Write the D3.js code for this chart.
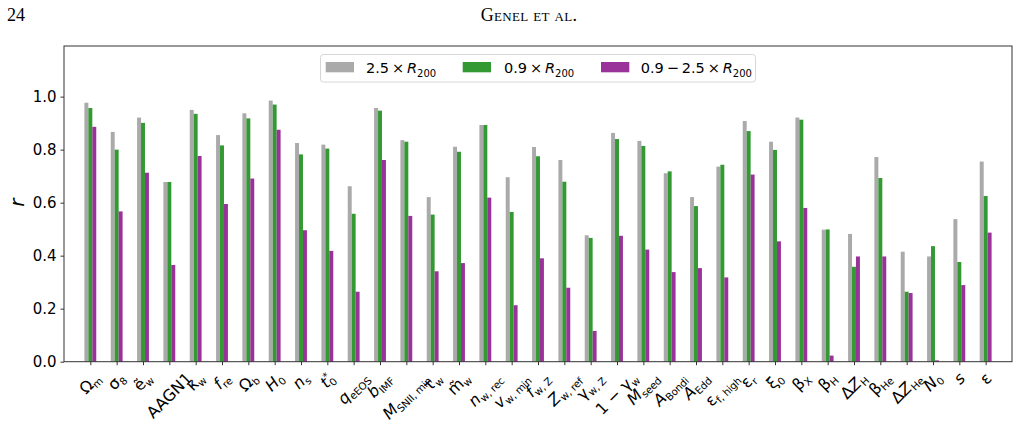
<!DOCTYPE html>
<html>
<head>
<meta charset="utf-8">
<script src="https://cdn.jsdelivr.net/npm/d3@7"></script>
<style>
body { margin: 0; background: #fff; }
svg { display: block; }
</style>
</head>
<body>
<svg id="chart" width="1019" height="426"></svg>
<script>
// ---- data ----
const categories = ["Ω_m","σ_8","ẽ_w","AAGN1","κ_w","f_{re}","Ω_b","H_0","n_s","t_0^*","q_{eEOS}","b_{IMF}",
  "M_{SNII, min}","τ_w","m̃_w","n_{w, rec}","v_{w, min}","f_{w, Z}","Z_{w, ref}","γ_{w, Z}","1 − γ_w","M_{seed}",
  "A_{Bondi}","A_{Edd}","ε_{f, high}","ε_r","ξ_0","β_X","β_H","ΔZ_H","β_{He}","ΔZ_{He}","N_0","s","ε"];
const r25 = [0.977,0.867,0.921,0.678,0.950,0.855,0.937,0.985,0.825,0.819,0.662,0.957,
  0.836,0.621,0.811,0.893,0.696,0.810,0.761,0.477,0.863,0.833,
  0.711,0.621,0.736,0.908,0.830,0.921,0.498,0.482,0.772,0.415,0.397,0.538,0.755];
const r09 = [0.957,0.800,0.901,0.678,0.935,0.816,0.918,0.970,0.782,0.804,0.558,0.947,
  0.830,0.555,0.792,0.893,0.565,0.775,0.679,0.467,0.840,0.814,
  0.718,0.587,0.743,0.870,0.799,0.913,0.499,0.358,0.693,0.264,0.436,0.376,0.625];
const r0925 = [0.886,0.567,0.713,0.365,0.776,0.595,0.691,0.875,0.496,0.418,0.264,0.761,
  0.550,0.341,0.372,0.619,0.213,0.390,0.279,0.116,0.475,0.423,
  0.338,0.353,0.318,0.706,0.454,0.580,0.023,0.397,0.397,0.259,0.005,0.289,0.487];
const yTicks = [0.0,0.2,0.4,0.6,0.8,1.0];
const seriesNames = [["2.5\u2009×\u2009", "R", "200"], ["0.9\u2009×\u2009", "R", "200"], ["0.9\u2009−\u20092.5\u2009×\u2009", "R", "200"]];
const seriesColors = ["#aaaaaa", "#339933", "#993399"];
const seriesData = [r25, r09, r0925];
const offsets = [-0.15, 0, 0.15];
const barW = 0.15;

// ---- layout ----
const svg = d3.select("#chart");
const L = 64, R = 1012, T = 46, B = 361.7;
const x = d3.scaleLinear().domain([-1, categories.length]).range([L, R]);
const y = d3.scaleLinear().domain([0, 1.191]).range([B, T]);
const sans = "DejaVu Sans, sans-serif";

// header
svg.append("text").attr("x", 7).attr("y", 21).attr("font-family", "Liberation Serif, serif")
  .attr("font-size", 18).text("24");
svg.append("text").attr("x", 529).attr("y", 21).attr("text-anchor", "middle")
  .attr("font-family", "Liberation Serif, serif").attr("font-size", 18)
  .style("font-variant", "small-caps").attr("letter-spacing", 0.3).text("Genel et al.");

// bars
seriesData.forEach((arr, si) => {
  svg.append("g").selectAll("rect").data(arr).join("rect")
    .attr("x", (d, i) => x(i + offsets[si] - barW / 2))
    .attr("width", x(barW) - x(0))
    .attr("y", d => y(d))
    .attr("height", d => y(0) - y(d))
    .attr("fill", seriesColors[si]);
});

// frame
svg.append("rect").attr("x", L).attr("y", T).attr("width", R - L).attr("height", B - T)
  .attr("fill", "none").attr("stroke", "#333").attr("stroke-width", 1);

// y axis
const ya = svg.append("g").attr("transform", `translate(${L},0)`)
  .call(d3.axisLeft(y).tickValues(yTicks).tickFormat(d3.format(".1f")).tickSize(3.5).tickPadding(4));
ya.select(".domain").remove();
ya.selectAll("text").attr("font-family", sans).attr("font-size", 15).attr("fill", "#000");
ya.selectAll("line").attr("stroke", "#333");

// x axis ticks
const xa = svg.append("g").attr("transform", `translate(0,${B})`)
  .call(d3.axisBottom(x).tickValues(d3.range(categories.length)).tickFormat("").tickSize(3.5));
xa.select(".domain").remove();
xa.selectAll("line").attr("stroke", "#333");

// math-ish label parser
function parseLabel(s) {
  const segs = [];
  let i = 0;
  while (i < s.length) {
    const ch = s[i];
    if (ch === "_" || ch === "^") {
      const kind = ch === "_" ? "sub" : "sup";
      i++;
      let t;
      if (s[i] === "{") { const j = s.indexOf("}", i); t = s.slice(i + 1, j); i = j + 1; }
      else { t = s[i]; i++; }
      segs.push({ t, kind });
    } else {
      let j = i;
      while (j < s.length && s[j] !== "_" && s[j] !== "^") j++;
      segs.push({ t: s.slice(i, j), kind: "main" });
      i = j;
    }
  }
  return segs;
}
const latinItalic = /^[A-Za-z]$/;
const subScale = 0.64;

function drawLabel(g, s, fs) {
  const txt = g.append("text").attr("font-family", sans).attr("font-size", fs).attr("fill", "#000");
  const segs = parseLabel(s);
  let shift = 0;
  segs.forEach((sg, k) => {
    if (sg.kind === "main") {
      const isText = /^[A-Z]{2,}/.test(sg.t);
      const ts = txt.append("tspan").attr("dy", -shift).text(sg.t);
      shift = 0;
      if (!isText && latinItalic.test(sg.t)) ts.attr("font-style", "italic");
      else if (!isText && /^Δ[A-Z]$/.test(sg.t)) {
        ts.text("Δ");
        txt.append("tspan").attr("font-style", "italic").text(sg.t[1]);
      }
    } else if (sg.kind === "sub") {
      const d = fs * 0.2;
      txt.append("tspan").attr("font-size", fs * subScale).attr("letter-spacing", -0.2)
        .attr("dy", d - shift).text(sg.t);
      shift = d;
    } else {
      const d = -fs * 0.38;
      const prev = segs[k - 1];
      const ts = txt.append("tspan").attr("font-size", fs * subScale).attr("dy", d - shift).text(sg.t);
      if (prev && prev.kind === "sub") {
        ts.attr("dx", -prev.t.length * fs * subScale * 0.62);
      }
      shift = d;
    }
  });
  return txt;
}

// x labels rotated 45°, centred on tick (ha='center', va='top')
const labG = svg.append("g");
const c45 = Math.SQRT1_2;
categories.forEach((s, i) => {
  const g = labG.append("g");
  const txt = drawLabel(g, s, 16);
  const bb = txt.node().getBBox();
  const corners = [[bb.x, bb.y], [bb.x + bb.width, bb.y], [bb.x, bb.y + bb.height], [bb.x + bb.width, bb.y + bb.height]]
    .map(([px, py]) => [px * c45 + py * c45, -px * c45 + py * c45]);
  const minX = d3.min(corners, c => c[0]), maxX = d3.max(corners, c => c[0]);
  const minY = d3.min(corners, c => c[1]);
  const tx = x(i) - (minX + maxX) / 2;
  const ty = B + 7 - minY;
  g.attr("transform", `translate(${tx},${ty}) rotate(-45)`);
});

// y label
svg.append("text").attr("transform", `translate(24,${y(0.6)}) rotate(-90)`)
  .attr("text-anchor", "middle").attr("font-family", sans).attr("font-size", 20)
  .attr("font-style", "italic").text("r");

// legend
const lg = svg.append("g");
lg.append("rect").attr("x", 320.5).attr("y", 54.5).attr("width", 435).attr("height", 27.5)
  .attr("rx", 3).attr("fill", "#fff").attr("fill-opacity", 0.8).attr("stroke", "#d6d6d6");
const patchX = [325.7, 462.7, 601];
const textX = [366, 504, 640.7];
seriesNames.forEach((nm, k) => {
  lg.append("rect").attr("x", patchX[k]).attr("y", 62).attr("width", 28.3).attr("height", 10.3)
    .attr("fill", seriesColors[k]);
  const t = lg.append("text").attr("x", textX[k]).attr("y", 73).attr("font-family", sans)
    .attr("font-size", 14.5).attr("fill", "#000");
  t.append("tspan").text(nm[0]);
  t.append("tspan").attr("font-style", "italic").text(nm[1]);
  t.append("tspan").attr("font-size", 10).attr("dy", 3.5).text(nm[2]);
});
</script>
</body>
</html>
